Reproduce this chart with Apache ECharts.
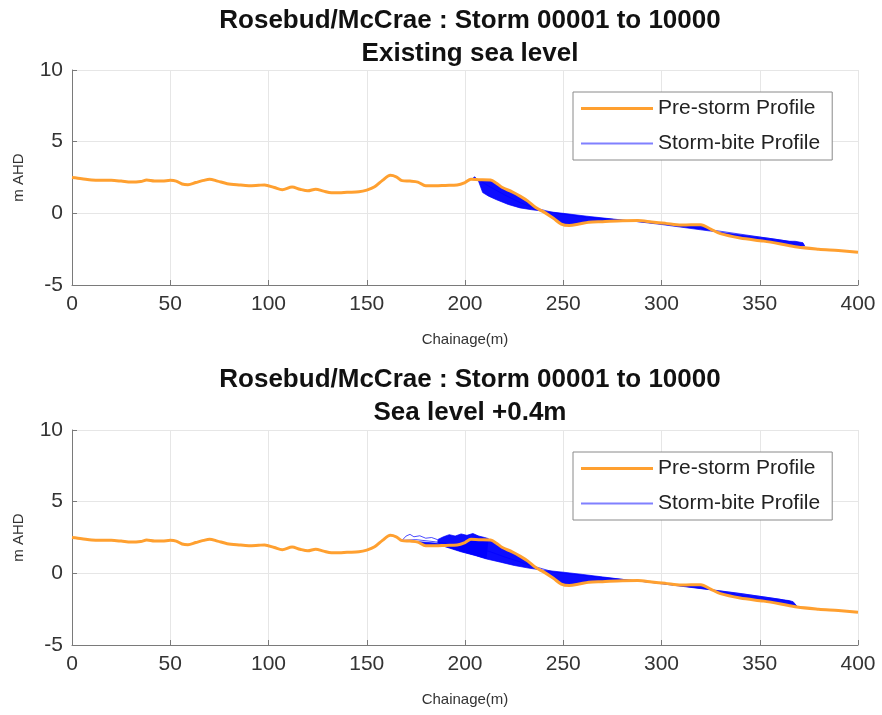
<!DOCTYPE html>
<html>
<head>
<meta charset="utf-8">
<script src="https://cdn.jsdelivr.net/npm/echarts@6/dist/echarts.min.js"></script>
<style>
  html, body { margin: 0; padding: 0; background: #fff; }
  #main { width: 882px; height: 715px; }
</style>
</head>
<body>
<div id="main"></div>
<script>
// pre-storm profile (same for both panels)
const chainage = [0, 5, 10, 15, 20, 25, 30, 35, 38, 42, 46, 50, 53, 56, 59, 63, 67, 70, 74, 79,
    85, 90, 95, 98, 103, 107, 112, 116, 120, 124, 128, 132, 136, 140, 146, 150, 154, 158, 162, 165,
    168, 172, 176, 180, 185, 190, 196, 200, 203, 207, 213, 216, 219, 224, 228, 232, 236, 240, 245, 249,
    253, 258, 263, 270, 280, 288, 295, 302, 310, 315, 320, 325, 330, 340, 352, 360, 369, 380, 390, 400];
const preStorm = [2.5, 2.42, 2.32, 2.3, 2.3, 2.25, 2.18, 2.22, 2.32, 2.25, 2.25, 2.3, 2.25, 2.05, 2.0, 2.15, 2.3, 2.38, 2.25, 2.07,
    1.98, 1.93, 1.96, 1.98, 1.8, 1.65, 1.84, 1.68, 1.57, 1.68, 1.55, 1.43, 1.43, 1.47, 1.5, 1.62, 1.85, 2.3, 2.65, 2.55,
    2.28, 2.25, 2.18, 1.92, 1.92, 1.95, 1.98, 2.15, 2.38, 2.35, 2.32, 2.1, 1.8, 1.5, 1.2, 0.85, 0.4, 0.1, -0.35, -0.75,
    -0.85, -0.75, -0.62, -0.58, -0.52, -0.5, -0.6, -0.7, -0.82, -0.8, -0.8, -1.1, -1.42, -1.72, -1.94, -2.12, -2.35, -2.5, -2.6, -2.72];

// existing sea level: most eroded storm-bite profile and a milder one
const biteTopX = [203, 205, 207, 209, 212, 216, 222, 228, 234, 240, 250, 262, 272, 284, 300, 320, 340, 355, 365, 368, 370, 372, 373];
const biteTopY = [2.35, 2.55, 2.2, 1.45, 1.2, 0.95, 0.62, 0.38, 0.25, 0.15, 0.0, -0.2, -0.35, -0.52, -0.78, -1.15, -1.5, -1.75, -1.95, -1.95, -2.0, -2.05, -2.3];
const biteTopMidX = [203, 207, 212, 220, 228, 235, 245, 260, 280, 300, 320, 340, 360, 366, 368];
const biteTopMidY = [2.38, 2.35, 1.9, 1.3, 0.75, 0.4, 0.05, -0.25, -0.48, -0.72, -1.05, -1.45, -1.85, -1.98, -2.25];

// sea level +0.4m
const biteLowX = [168, 186, 190, 198, 205, 211, 218, 225, 233, 240, 250, 260, 270, 280, 295, 310, 325, 340, 352, 362, 365, 367, 369];
const biteLowY = [2.3, 2.1, 1.85, 1.5, 1.25, 1.0, 0.78, 0.55, 0.35, 0.22, 0.08, -0.08, -0.25, -0.42, -0.64, -0.9, -1.15, -1.42, -1.65, -1.85, -1.9, -1.98, -2.3];
const biteLowMidX = [168, 175, 185, 195, 205, 213, 220, 228, 236, 245, 260, 280, 300, 320, 340, 360, 365, 367];
const biteLowMidY = [2.3, 2.35, 2.2, 2.0, 1.8, 1.5, 1.15, 0.8, 0.45, 0.1, -0.15, -0.42, -0.7, -1.05, -1.4, -1.8, -1.95, -2.2];
const crestLowX = [186, 189, 192, 195, 198, 201, 204, 207, 210, 212];
const crestLowY = [2.35, 2.55, 2.7, 2.6, 2.75, 2.65, 2.78, 2.6, 2.5, 2.42];
const loopsLowX = [168, 170, 172, 174, 177, 180, 183, 186];
const loopsLowY = [2.3, 2.6, 2.72, 2.55, 2.62, 2.45, 2.5, 2.35];

const xTicks = { min: 0, max: 400, step: 50 };
const yTicks = { min: -5, max: 10, step: 5 };

const font = "'Liberation Sans', Arial, Helvetica, sans-serif";
const orange = '#ffa030';
const blue = '#0000ff';

function pairs(xs, ys) {
    return xs.map((x, i) => [x, ys[i]]);
}

// pre-storm points between two chainages, used to close the storm-bite fan
function preBetween(x0, x1) {
    let out = [];
    chainage.forEach((x, i) => {
        if (x > x0 && x < x1) out.push([x, preStorm[i]]);
    });
    return out;
}

function band(edge, other) {
    return edge.concat(other.slice().reverse());
}

function fan(idx, poly) {
    return {
        type: 'custom',
        name: 'Storm-bite Profile',
        xAxisIndex: idx,
        yAxisIndex: idx,
        silent: true,
        z: 2,
        data: [[0, 0]],
        renderItem: function (params, api) {
            return {
                type: 'polygon',
                shape: { points: poly.map(p => api.coord(p)) },
                style: { fill: blue, opacity: 0.95 }
            };
        }
    };
}

function biteLine(idx, data) {
    return {
        type: 'line',
        name: 'Storm-bite Profile',
        xAxisIndex: idx,
        yAxisIndex: idx,
        data: data,
        symbol: 'none',
        z: 3,
        lineStyle: { color: blue, width: 1, opacity: 0.7 }
    };
}

function preLine(idx) {
    return {
        type: 'line',
        name: 'Pre-storm Profile',
        xAxisIndex: idx,
        yAxisIndex: idx,
        data: pairs(chainage, preStorm),
        symbol: 'none',
        smooth: 0.3,
        z: 5,
        lineStyle: { color: orange, width: 3 }
    };
}

function xAxis(idx) {
    return {
        type: 'value', gridIndex: idx,
        min: xTicks.min, max: xTicks.max, interval: xTicks.step,
        name: 'Chainage(m)', nameLocation: 'middle', nameGap: 47,
        nameTextStyle: { fontFamily: font, fontSize: 15, color: '#333' },
        axisLine: { show: true, onZero: false, lineStyle: { color: '#7a7a7a' } },
        axisTick: { show: true, inside: true, length: 5, lineStyle: { color: '#7a7a7a' } },
        axisLabel: { fontFamily: font, fontSize: 21, color: '#333', margin: 9 },
        splitLine: { show: true, lineStyle: { color: '#e6e6e6' } }
    };
}

function yAxis(idx) {
    return {
        type: 'value', gridIndex: idx,
        min: yTicks.min, max: yTicks.max, interval: yTicks.step,
        name: 'm AHD', nameLocation: 'middle', nameGap: 46,
        nameTextStyle: { fontFamily: font, fontSize: 15, color: '#333' },
        axisLine: { show: true, onZero: false, lineStyle: { color: '#7a7a7a' } },
        axisTick: { show: true, inside: true, length: 5, lineStyle: { color: '#7a7a7a' } },
        axisLabel: { fontFamily: font, fontSize: 21, color: '#333', margin: 9 },
        splitLine: { show: true, lineStyle: { color: '#e6e6e6' } }
    };
}

function legend(top) {
    return {
        orient: 'vertical',
        left: 573, top: top,
        padding: [6, 12, 6, 8],
        itemGap: 14,
        itemWidth: 72,
        itemHeight: 20,
        borderColor: '#8a8a8a',
        borderWidth: 1,
        backgroundColor: '#fff',
        textStyle: { fontFamily: font, fontSize: 21, color: '#222' },
        data: [
            { name: 'Pre-storm Profile', icon: 'path://M0,0L72,0L72,3L0,3Z', itemStyle: { color: orange } },
            { name: 'Storm-bite Profile', icon: 'path://M0,0L72,0L72,2L0,2Z', itemStyle: { color: '#8080ff' } }
        ]
    };
}

function title(top, sub) {
    return {
        text: 'Rosebud/McCrae : Storm 00001 to 10000\n' + sub,
        left: 465, top: top, textAlign: 'center',
        textStyle: { fontFamily: font, fontSize: 26, fontWeight: 'bold', color: '#111', lineHeight: 33 }
    };
}

const topBite = pairs(biteTopX, biteTopY);
const lowBite = pairs(biteLowX, biteLowY);
const crest = pairs(crestLowX, crestLowY);

let option = {
    animation: false,
    backgroundColor: '#fff',
    title: [title(-1, 'Existing sea level'), title(358, 'Sea level +0.4m')],
    legend: [legend(92), legend(452)],
    grid: [
        { left: 72, top: 70, width: 786, height: 215 },
        { left: 72, top: 430, width: 786, height: 215 }
    ],
    xAxis: [xAxis(0), xAxis(1)],
    yAxis: [yAxis(0), yAxis(1)],
    series: [
        biteLine(0, topBite),
        biteLine(0, pairs(biteTopMidX, biteTopMidY)),
        fan(0, band(topBite, preBetween(203, 373))),
        preLine(0),

        biteLine(1, lowBite),
        biteLine(1, pairs(biteLowMidX, biteLowMidY)),
        biteLine(1, crest),
        biteLine(1, pairs(loopsLowX, loopsLowY)),
        fan(1, band(lowBite, preBetween(168, 369))),
        fan(1, band(crest, lowBite.filter(p => p[0] >= 186 && p[0] <= 212))),
        preLine(1)
    ]
};

let myChart = echarts.init(document.getElementById('main'));
myChart.setOption(option);
</script>
</body>
</html>
